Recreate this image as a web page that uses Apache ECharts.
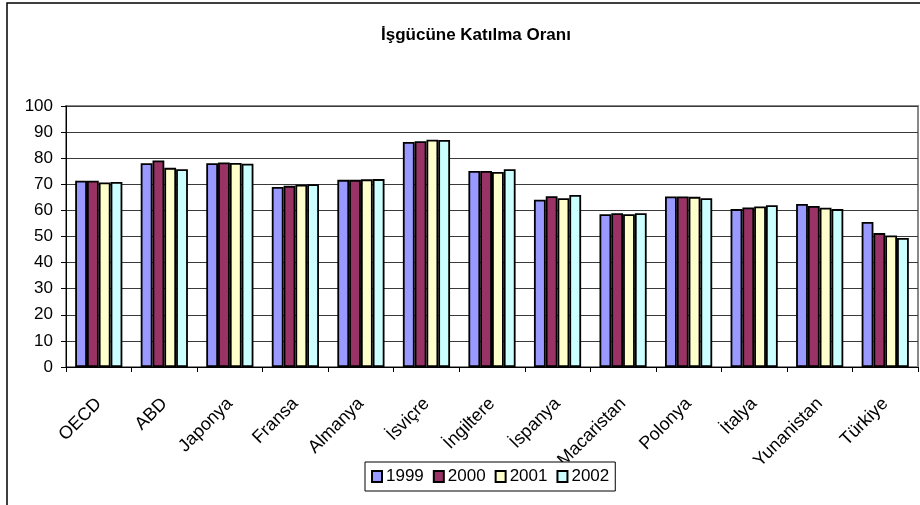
<!DOCTYPE html>
<html>
<head>
<meta charset="utf-8">
<script src="https://cdn.jsdelivr.net/npm/echarts@6/dist/echarts.min.js"></script>
<style>
  html, body { margin: 0; padding: 0; background: #fff; }
  #chart { width: 920px; height: 505px; }
</style>
</head>
<body>
<div id="chart"></div>
<script>
var categories = ['OECD', 'ABD', 'Japonya', 'Fransa', 'Almanya', 'İsviçre', 'İngiltere',
    'İspanya', 'Macaristan', 'Polonya', 'İtalya', 'Yunanistan', 'Türkiye'];
var years = ['1999', '2000', '2001', '2002'];
var data1999 = [71.4, 78.1, 78.1, 69.0, 71.7, 86.2, 75.1, 64.1, 58.5, 65.3, 60.5, 62.5, 55.6];
var data2000 = [71.4, 79.1, 78.4, 69.4, 71.7, 86.5, 75.1, 65.4, 58.9, 65.3, 61.1, 61.7, 51.3];
var data2001 = [70.7, 76.3, 78.2, 69.8, 71.9, 87.1, 74.7, 64.7, 58.5, 65.2, 61.5, 61.0, 50.4];
var data2002 = [70.9, 75.8, 77.9, 70.0, 72.0, 87.0, 75.8, 65.9, 58.9, 64.7, 62.0, 60.5, 49.4];
var yTicks = [0, 10, 20, 30, 40, 50, 60, 70, 80, 90, 100];
var colors = ['#9999ff', '#993366', '#ffffcc', '#ccffff'];

var fontFam = '"Liberation Sans", Arial, sans-serif';

function barSeries(name, values, idx) {
    return {
        name: name,
        type: 'bar',
        data: values,
        barGap: '0%',
        barCategoryGap: '28%',
        itemStyle: {
            color: colors[idx],
            borderColor: '#000',
            borderWidth: 1.8 // siyah kenarlık
        }
    };
}

var myChart = echarts.init(document.getElementById('chart'));
var option = {
    animation: false,
    graphic: [{
        type: 'rect',
        shape: { x: 7, y: 3, width: 940, height: 540 },
        style: { fill: 'none', stroke: '#000', lineWidth: 1.5 },
        z: -1
    }],
    title: {
        text: 'İşgücüne Katılma Oranı',
        left: 376,
        top: 22,
        textStyle: { fontFamily: fontFam, fontSize: 17, fontWeight: 'bold', color: '#000' }
    },
    legend: {
        data: years,
        left: 365,
        top: 462,
        icon: 'rect',
        itemWidth: 10,
        itemHeight: 11,
        itemGap: 9,
        padding: [6, 6],
        backgroundColor: '#fff',
        borderColor: '#000',
        borderWidth: 1,
        textStyle: { fontFamily: fontFam, fontSize: 17, color: '#000', padding: [0, 0, 0, -1] },
        z: 10
    },
    grid: {
        left: 66,
        right: 2,
        top: 106,
        bottom: 138,
        show: true,
        borderColor: '#888',
        borderWidth: 2
    },
    xAxis: {
        type: 'category',
        data: categories,
        axisLine: { lineStyle: { color: '#000', width: 1 } },
        axisTick: { show: true, length: 5, lineStyle: { color: '#000' } },
        axisLabel: {
            rotate: 45,
            margin: 34,
            interval: 0,
            fontFamily: fontFam,
            fontSize: 18,
            color: '#000'
        }
    },
    yAxis: {
        type: 'value',
        min: yTicks[0],
        max: yTicks[yTicks.length - 1],
        interval: 10,
        axisLine: { show: true, lineStyle: { color: '#000', width: 1 } },
        axisTick: { show: true, length: 5, lineStyle: { color: '#000' } },
        splitLine: { lineStyle: { color: '#3a3a3a', width: 1.2 } },
        axisLabel: { margin: 13, fontFamily: fontFam, fontSize: 17, color: '#000' }
    },
    series: [
        barSeries(years[0], data1999, 0),
        barSeries(years[1], data2000, 1),
        barSeries(years[2], data2001, 2),
        barSeries(years[3], data2002, 3)
    ]
};
myChart.setOption(option);
</script>
</body>
</html>
